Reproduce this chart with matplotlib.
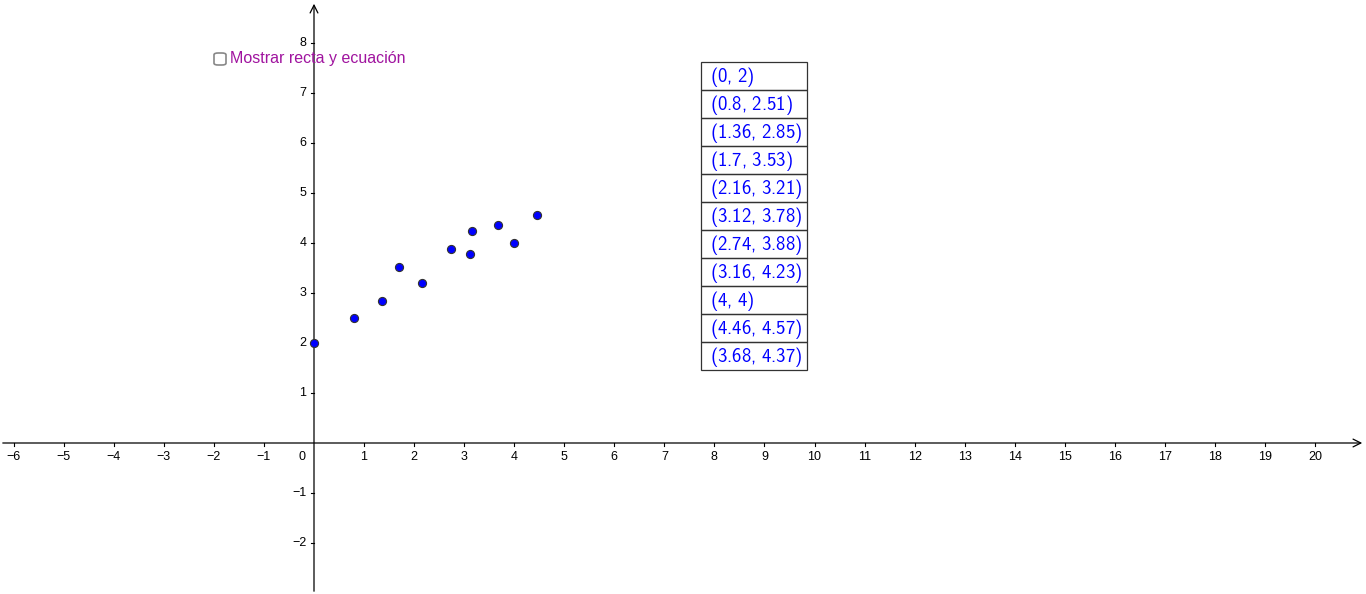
import matplotlib.pyplot as plt
from matplotlib.patches import Rectangle, FancyBboxPatch

# Datos
xs = [0, 0.8, 1.36, 1.7, 2.16, 3.12, 2.74, 3.16, 4, 4.46, 3.68]
ys = [2, 2.51, 2.85, 3.53, 3.21, 3.78, 3.88, 4.23, 4, 4.57, 4.37]
labels = ["(0, 2)", "(0.8, 2.51)", "(1.36, 2.85)", "(1.7, 3.53)", "(2.16, 3.21)",
          "(3.12, 3.78)", "(2.74, 3.88)", "(3.16, 4.23)", "(4, 4)",
          "(4.46, 4.57)", "(3.68, 4.37)"]
x_ticks = [t for t in range(-6, 21) if t != 0]
y_ticks = [t for t in range(-2, 9) if t != 0]

plt.rcParams['font.family'] = ['Liberation Sans', 'DejaVu Sans']
plt.rcParams['mathtext.fontset'] = 'custom'
plt.rcParams['mathtext.rm'] = 'cmss10'
plt.rcParams['mathtext.it'] = 'cmss10'
plt.rcParams['mathtext.sf'] = 'cmss10'

W, H = 1366, 594
fig = plt.figure(figsize=(W / 100, H / 100), dpi=100)
ax = fig.add_axes([0, 0, 1, 1])
ax.set_xlim(-314 / 50.05, (W - 314) / 50.05)
ax.set_ylim(-(H - 443) / 50, 443 / 50)
ax.axis('off')

# Ejes con flechas
xl, yl = ax.get_xlim(), ax.get_ylim()
ax.annotate('', xy=(xl[1] - 0.02, 0), xytext=(xl[0], 0),
            arrowprops=dict(arrowstyle='->', lw=0.9, color='black', mutation_scale=14))
ax.annotate('', xy=(0, yl[1] - 0.02), xytext=(0, yl[0]),
            arrowprops=dict(arrowstyle='->', lw=0.9, color='black', mutation_scale=14))

# Marcas y etiquetas
for t in x_ticks:
    ax.plot([t, t], [0, -0.06], color='black', lw=0.8)
    lab = str(t).replace('-', '\u2212')
    ax.text(t, -0.16, lab, ha='center', va='top', fontsize=9)
ax.text(-0.24, -0.16, '0', ha='center', va='top', fontsize=9)
for t in y_ticks:
    ax.plot([0, -0.06], [t, t], color='black', lw=0.8)
    lab = str(t).replace('-', '\u2212')
    ax.text(-0.15, t, lab, ha='right', va='center', fontsize=9)

# Puntos
ax.scatter(xs, ys, s=34, color='#0000ff', edgecolors='#333333', linewidths=0.8, zorder=5)

# Tabla de puntos
x0, y0, w, h = 701, 62, 106, 28
for i, lab in enumerate(labels):
    top = y0 + i * h
    fig.patches.append(Rectangle((x0 / W, 1 - (top + h) / H), w / W, h / H,
                                 transform=fig.transFigure, fill=False,
                                 edgecolor='#333333', lw=0.9))
    math = '$' + lab.replace(', ', r',\,') + '$'
    fig.text((x0 + 9) / W, 1 - (top + h / 2 + 1) / H, math, ha='left', va='center',
             fontsize=13.5, color='#0000ff')

# Casilla de verificación
fig.patches.append(FancyBboxPatch((214 / W, 1 - 65 / H), 12 / W, 12 / H,
                                  boxstyle='round,pad=0,rounding_size=0.003',
                                  transform=fig.transFigure, fill=False,
                                  edgecolor='#888888', lw=1.2))
fig.text(230 / W, 1 - 59 / H, 'Mostrar recta y ecuación', ha='left', va='center',
         fontsize=11.5, color='#a0149f')

plt.savefig('out.png', dpi=100)
